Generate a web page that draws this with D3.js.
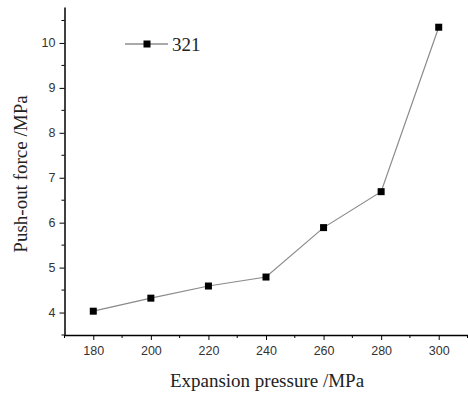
<!DOCTYPE html>
<html>
<head>
<meta charset="utf-8">
<script src="https://cdn.jsdelivr.net/npm/d3@7"></script>
<style>
  body { margin: 0; background: #fff; }
  .tick text { font-family: "Liberation Sans", Arial, sans-serif; font-size: 12.5px; fill: #333; }
  .axis-title { font-family: "Liberation Serif", "Times New Roman", serif; font-size: 19px; fill: #222; }
</style>
</head>
<body>
<div id="chart"></div>
<script>
// data
var pressures = [180, 200, 220, 240, 260, 280, 300];
var forces = [4.03, 4.32, 4.59, 4.79, 5.89, 6.69, 10.35];
var seriesName = '321';
var xTicks = [180, 200, 220, 240, 260, 280, 300];
var yTicks = [4, 5, 6, 7, 8, 9, 10];

var width = 468, height = 393;
var margin = {left: 64.5, right: 0.5, top: 7, bottom: 58};

var svg = d3.select('#chart').append('svg')
  .attr('width', width)
  .attr('height', height);

var x = d3.scaleLinear().domain([170, 310]).range([margin.left, width - margin.right]);
var y = d3.scaleLinear().domain([3.5, 10.8]).range([height - margin.bottom, margin.top]);

// minor ticks first
var xMinor = d3.range(170, 311, 10).filter(function(v){ return xTicks.indexOf(v) < 0; });
var yMinor = d3.range(3.5, 10.81, 0.5).filter(function(v){ return yTicks.indexOf(v) < 0; });

svg.append('g')
  .attr('transform', 'translate(0,' + y.range()[0] + ')')
  .selectAll('line').data(xMinor).enter().append('line')
  .attr('x1', function(d){ return x(d); }).attr('x2', function(d){ return x(d); })
  .attr('y1', 0).attr('y2', 3)
  .attr('stroke', '#000').attr('stroke-width', 1);

svg.append('g')
  .attr('transform', 'translate(' + x.range()[0] + ',0)')
  .selectAll('line').data(yMinor).enter().append('line')
  .attr('y1', function(d){ return y(d); }).attr('y2', function(d){ return y(d); })
  .attr('x1', 0).attr('x2', -3)
  .attr('stroke', '#000').attr('stroke-width', 1);

var xAxis = svg.append('g')
  .attr('transform', 'translate(0,' + y.range()[0] + ')')
  .call(d3.axisBottom(x).tickValues(xTicks).tickSize(5).tickPadding(6).tickSizeOuter(0));

var yAxis = svg.append('g')
  .attr('transform', 'translate(' + x.range()[0] + ',0)')
  .call(d3.axisLeft(y).tickValues(yTicks).tickSize(5).tickPadding(4).tickSizeOuter(0));

[xAxis, yAxis].forEach(function(g){
  g.select('.domain').attr('stroke', '#000').attr('stroke-width', 1.5);
  g.selectAll('.tick line').attr('stroke', '#000').attr('stroke-width', 1);
});

// data line
var pts = pressures.map(function(p, i){ return {x: p, y: forces[i]}; });
var line = d3.line().x(function(d){ return x(d.x); }).y(function(d){ return y(d.y); });

svg.append('path')
  .datum(pts)
  .attr('d', line)
  .attr('fill', 'none')
  .attr('stroke', '#8a8a8a')
  .attr('stroke-width', 1.2);

var ms = 7;
svg.selectAll('.pt').data(pts).enter().append('rect')
  .attr('class', 'pt')
  .attr('x', function(d){ return x(d.x) - ms / 2; })
  .attr('y', function(d){ return y(d.y) - ms / 2; })
  .attr('width', ms).attr('height', ms)
  .attr('fill', '#000');

// legend
var lg = svg.append('g').attr('transform', 'translate(125,44)');
lg.append('line').attr('x1', 0).attr('x2', 43).attr('y1', 0).attr('y2', 0)
  .attr('stroke', '#555').attr('stroke-width', 1);
lg.append('rect').attr('x', 22 - ms / 2).attr('y', -ms / 2).attr('width', ms).attr('height', ms).attr('fill', '#000');
lg.append('text').attr('class', 'axis-title').attr('x', 47).attr('y', 7).text(seriesName);

// axis titles
svg.append('text').attr('class', 'axis-title')
  .attr('x', 267).attr('y', 387)
  .attr('text-anchor', 'middle')
  .text('Expansion pressure /MPa');

svg.append('text').attr('class', 'axis-title')
  .attr('transform', 'translate(27,174) rotate(-90)')
  .attr('text-anchor', 'middle')
  .text('Push-out force /MPa');
</script>
</body>
</html>
